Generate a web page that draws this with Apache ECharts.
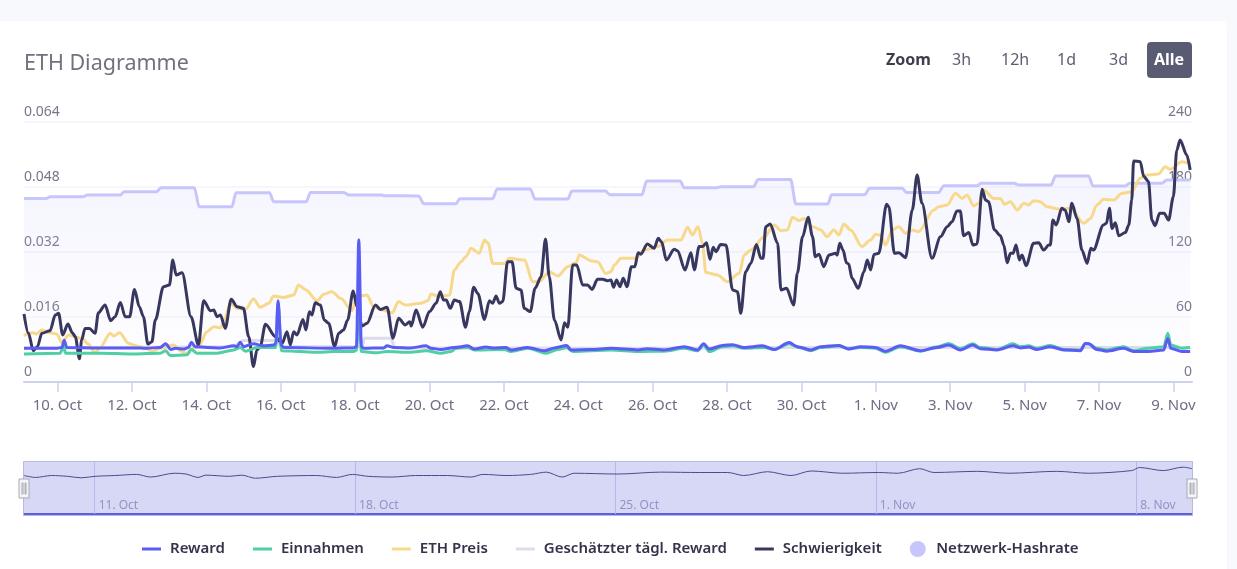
<!doctype html>
<html>
<head>
<meta charset="UTF-8">
<title>ETH Diagramme</title>
<script src="https://cdn.jsdelivr.net/npm/echarts@6/dist/echarts.min.js"></script>
<style>
  html, body { margin: 0; padding: 0; background: #f8f9fd; overflow: hidden; }
  #card { position: absolute; left: 0; top: 21px; width: 1227px; height: 548px; background: #fff; border-radius: 0 5px 0 0; }
  #main { position: absolute; left: 0; top: 0; width: 1237px; height: 569px; }
</style>
</head>
<body>
<div id="card"></div>
<div id="main"></div>
<script>
// all series are [day, value], day is counted from 1 Oct (so 32 = 1 Nov, 40 = 9 Nov)
var tickDays = [10, 12, 14, 16, 18, 20, 22, 24, 26, 28, 30, 32, 34, 36, 38, 40];
var tickLabels = ['10. Oct', '12. Oct', '14. Oct', '16. Oct', '18. Oct', '20. Oct', '22. Oct', '24. Oct', '26. Oct', '28. Oct', '30. Oct', '1. Nov', '3. Nov', '5. Nov', '7. Nov', '9. Nov'];
var navTickDays = [11, 18, 25, 32, 39];
var navTickLabels = ['11. Oct', '18. Oct', '25. Oct', '1. Nov', '8. Nov'];

var reward = [[9.10,.0083],[9.98,.0083],[10.12,.0085],[10.18,.0103],[10.25,.0085],[11.15,.0084],[12.04,.0084],[12.40,.0083],[12.76,.0085],[12.91,.0094],[13.05,.0080],[13.17,.0083],[13.39,.0081],[13.52,.0085],[13.60,.0098],[13.70,.0087],[14.02,.0085],[14.38,.0084],[14.74,.0089],[14.83,.0087],[14.91,.0098],[15.00,.0087],[15.27,.0094],[15.54,.0089],[15.81,.0091],[15.87,.0095],[15.93,.0200],[16.01,.0091],[16.08,.0085],[17.43,.0083],[17.96,.0084],[18.04,.0087],[18.10,.0350],[18.17,.0087],[18.23,.0083],[18.77,.0084],[18.86,.0089],[19.04,.0085],[19.49,.0084],
  [19.91,.0089],[20.04,.0083],[20.31,.0080],[20.67,.0085],[21.03,.0089],[21.21,.0081],[21.52,.0086],[21.70,.0084],[22.06,.0085],[22.19,.0079],[22.64,.0085],[23.09,.0077],[23.36,.0084],[23.69,.0090],[23.80,.0079],[24.34,.0080],[24.88,.0083],[25.60,.0079],[25.86,.0082],[26.31,.0079],[26.85,.0087],[27.21,.0079],[27.37,.0094],[27.52,.0081],[27.88,.0090],[28.15,.0092],[28.46,.0085],[28.95,.0089],[29.27,.0080],[29.67,.0097],[29.89,.0087],[30.25,.0079],[30.52,.0087],
  [31.01,.0090],[31.27,.0081],[31.59,.0087],[31.99,.0085],[32.26,.0076],[32.66,.0089],[33.20,.0077],[33.65,.0085],[33.96,.0091],[34.27,.0079],[34.61,.0091],[34.81,.0082],[35.26,.0079],[35.69,.0089],[35.89,.0084],[36.11,.0086],[36.33,.0080],[36.69,.0087],[37.05,.0079],[37.50,.0077],[37.63,.0095],[37.72,.0094],[37.94,.0080],[38.21,.0076],[38.66,.0083],[38.93,.0075],[39.33,.0075],[39.74,.0079],[39.85,.0107],[39.93,.0083],[40.23,.0075],[40.45,.0075]];

var einnahmen = [[9.10,.0069],[10.07,.0071],[10.16,.0087],[10.22,.0071],[11.15,.0071],[12.04,.0069],[12.76,.0071],[12.91,.0077],[13.03,.0065],[13.48,.0067],[13.60,.0080],[13.75,.0071],[14.29,.0071],[14.74,.0079],[14.91,.0085],[15.05,.0076],[15.36,.0085],[15.87,.0085],[15.93,.0193],[16.02,.0077],[16.53,.0075],[16.98,.0073],[17.43,.0075],[17.96,.0075],[18.04,.0079],[18.10,.0226],[18.17,.0075],[18.59,.0072],[18.86,.0075],[19.49,.0073],
  [19.91,.0077],[20.31,.0071],[20.58,.0075],[20.72,.0083],[21.03,.0085],[21.21,.0079],[22.01,.0080],[22.19,.0075],[22.64,.0083],[23.13,.0071],[23.45,.0080],[23.69,.0085],[23.85,.0075],[24.88,.0079],[25.60,.0075],[26.31,.0076],[26.85,.0083],[27.21,.0077],[27.37,.0091],[27.52,.0075],[27.88,.0087],[28.15,.0089],[28.46,.0083],[29.00,.0085],[29.27,.0080],[29.67,.0094],[29.94,.0085],[30.25,.0077],[30.52,.0085],
  [31.01,.0089],[31.27,.0082],[31.59,.0085],[31.99,.0083],[32.26,.0073],[32.66,.0087],[33.20,.0076],[33.65,.0087],[33.96,.0095],[34.27,.0082],[34.61,.0094],[34.81,.0085],[35.26,.0080],[35.69,.0094],[35.89,.0087],[36.11,.0089],[36.33,.0083],[36.69,.0090],[37.05,.0080],[37.50,.0079],[37.63,.0094],[37.72,.0094],[37.94,.0083],[38.21,.0079],[38.66,.0087],[38.93,.0077],[39.33,.0083],[39.74,.0087],[39.85,.0120],[39.93,.0091],[40.23,.0083],[40.45,.0085]];

var ethPreis = [[9.10,42.5],[9.22,44.9],[9.35,45.5],[9.44,44.3],[9.58,48],[9.80,45.5],[9.98,44.3],[10.12,36.3],[10.30,43.4],[10.52,41.2],[10.65,40.3],[10.83,35],[11.01,27],[11.15,32],[11.42,44.9],[11.51,42.5],[11.67,45.5],[11.91,35.7],[12.04,34.2],[12.22,32.6],[12.40,31],[12.54,28],[12.76,31],[13.12,34.2],[13.35,28],[13.48,26.5],[13.61,31],[13.79,32.6],[14.02,46.5],[14.20,51],[14.38,50],[14.47,55.7],[14.65,72.6],[14.83,68],[15.05,67],[15.27,76.6],[15.45,69],[15.68,72.6],[15.81,79.4],[16.08,78],[16.35,80.3],[16.48,89.5],[16.66,85.5],[16.98,75],[17.16,81],[17.38,83.4],[17.61,77.2],[17.92,65.8],[18.05,78.8],[18.32,80.3],[18.50,69.5],[18.68,67],[19.00,64],[19.17,74.2],[19.35,71],[19.76,72.6],
  [19.96,75],[20.04,81.2],[20.27,78.8],[20.54,80.3],[20.67,103.4],[20.85,111],[20.98,115.7],[21.12,123.4],[21.34,118.8],[21.48,131],[21.58,128],[21.70,109.5],[22.01,109.5],[22.15,114.2],[22.55,112.6],[22.78,92.6],[22.95,92.6],[23.22,101.8],[23.45,97.8],[23.72,106.5],[23.94,110],[24.03,117.2],[24.34,112],[24.52,111],[24.74,100.3],[24.88,101.8],[24.97,108],[25.15,114.2],[25.55,114.2],[25.77,121.8],[26.13,125],[26.40,131],[26.76,131],[26.94,142.8],[27.07,135.7],[27.22,143.4],[27.34,128],[27.43,101],[27.74,98.8],[28.01,92.6],[28.33,100.3],[28.46,117.2],[28.64,121.8],[29.00,134],[29.27,145],[29.45,139.7],[29.62,140.3],[29.76,152],[29.94,149],[30.07,151],[30.30,143.4],[30.52,140.3],
  [30.69,134],[30.87,140.3],[31.01,135.7],[31.14,145.8],[31.32,140.3],[31.63,125],[31.86,131],[31.99,136.3],[32.13,135.7],[32.26,126.5],[32.44,140.3],[32.62,143.4],[32.80,137.2],[32.98,140.3],[33.15,138.8],[33.56,158.8],[33.69,161.8],[33.92,163.4],[34.14,174.2],[34.32,169.5],[34.45,172.6],[34.63,162.5],[34.77,165],[34.90,177.2],[35.17,169.5],[35.35,169.5],[35.46,164],[35.62,166.5],[35.80,158.8],[35.98,165],[36.11,163.4],[36.24,167.4],[36.42,166.5],[36.60,161.8],[36.96,159.4],[37.23,160.3],[37.59,146.5],[37.77,151],[37.94,163.4],[38.12,168.6],[38.39,168],[38.62,174.2],[38.88,175.7],[39.11,188],[39.29,191],[39.60,192],[39.78,198.8],[39.91,196.3],[40.23,203.4],[40.45,201.8]];

var geschaetzt = [[9.10,.0083],[14.74,.0087],[15.00,.0102],[15.88,.0102],[16.01,.0087],[18.20,.0087],[18.25,.0108],[18.95,.0108],[19.08,.0085],[19.49,.0084],[25,.0083],[30,.0085],[35,.0085],[40.45,.0085]];

var schwierigkeit = [[9.10,62.8],[9.22,44.9],[9.35,28.9],[9.46,32.6],[9.58,44.9],[9.80,47.4],[9.94,61.8],[10.03,63.4],[10.14,43.4],[10.28,53.5],[10.40,45.5],[10.48,41.8],[10.59,21.5],[10.65,38.8],[10.74,49.5],[10.86,49.5],[11.01,44.9],[11.10,64],[11.28,71],[11.43,56.6],[11.55,60.3],[11.69,73.5],[11.82,60.3],[11.94,60.3],[12.07,85.5],[12.20,69.5],[12.31,60.3],[12.43,35],[12.54,37.2],[12.63,57.2],[12.85,88],[13.01,89.5],[13.10,112.6],[13.19,98.8],[13.35,100.9],[13.59,60.3],[13.79,34.2],[13.93,75],[14.11,65.8],[14.20,66.5],[14.29,60.3],[14.38,61.8],[14.51,49.5],[14.67,76.3],[14.83,69.5],[15.00,68],[15.14,41.8],[15.27,14.2],[15.36,29.5],[15.45,32.6],[15.59,53.2],[15.86,41.8],[16.04,35.7],[16.17,46.5],[16.26,34.2],[16.35,46.5],[16.44,43.4],[16.60,57.8],[16.68,48],[16.77,64.9],[16.84,61.8],[16.93,73.2],[17.07,71],[17.17,57.2],[17.29,54.2],[17.45,32.6],[17.56,44.9],[17.69,48],[17.80,57.2],[17.95,84],[18.05,69.5],[18.19,51.7],[18.32,54.2],[18.55,71],[18.68,67],[18.86,69],[19.02,40.3],[19.17,58.8],[19.35,52.6],[19.47,55.7],[19.51,51.7],[19.64,66.5],[19.82,50.5],
  [20.00,65],[20.18,72.6],[20.29,83.4],[20.38,75.7],[20.45,75.7],[20.56,68],[20.67,75.7],[20.81,74.2],[20.97,50.5],[21.07,65],[21.19,87.4],[21.30,81.8],[21.48,57.8],[21.61,75],[21.70,72.6],[21.79,79.4],[21.88,72.6],[21.97,74.2],[22.10,111],[22.22,111],[22.33,86.5],[22.46,85],[22.55,68],[22.71,65],[22.84,86.5],[23.00,97.2],[23.12,132],[23.22,97.2],[23.36,57.2],[23.54,38.8],[23.63,54.8],[23.72,50.5],[23.85,108],[23.96,108],[24.12,89.5],[24.25,89.5],[24.37,85.5],[24.52,94.8],[24.66,94.8],[24.79,93.5],[24.88,94.2],[24.95,87.4],[25.03,94.2],[25.12,88],[25.21,95.7],[25.31,88],[25.43,106.5],[25.52,106.5],[25.61,119.4],[25.68,118],[25.86,127.4],[26.04,123.4],[26.15,132.6],[26.24,129.5],[26.37,112.6],[26.58,122.5],[26.67,121.2],[26.87,103.4],[27.03,119.4],[27.12,103.4],[27.25,125],[27.34,125],[27.45,128.6],[27.54,113.2],[27.63,124.3],[27.70,120.3],[27.83,127],[27.97,126.5],[28.15,85],[28.28,83.4],[28.37,63.4],[28.50,101.8],[28.64,109.5],[28.79,127],[28.91,114.2],[28.97,114.2],[29.04,143.4],[29.16,145.8],[29.36,128],[29.45,85],[29.60,86.5],[29.79,71],[29.89,100.3],[30.03,134],[30.18,152],[30.30,134],[30.37,115.7],[30.47,118],[30.60,106.5],
  [30.74,117.2],[30.92,118.8],[30.96,117.2],[31.03,128],[31.12,121.8],[31.21,110],[31.27,109],[31.36,95.7],[31.53,86.5],[31.68,101.8],[31.77,112.6],[31.86,103.4],[31.95,117.8],[32.08,118.8],[32.29,164],[32.35,161.8],[32.50,118.8],[32.62,119.4],[32.80,114.8],[32.98,158.8],[33.11,191],[33.24,165],[33.51,114.2],[33.74,134],[33.92,143.4],[34.05,148],[34.18,157.9],[34.27,157.9],[34.36,135],[34.50,138],[34.61,126.5],[34.72,127.4],[34.86,177.9],[34.95,168],[35.03,166.5],[35.19,140.3],[35.35,135],[35.44,126.5],[35.53,110],[35.62,118.8],[35.69,118.8],[35.77,126.5],[35.86,112.6],[35.93,117.2],[36.04,107.4],[36.24,128],[36.38,128.6],[36.51,121.8],[36.65,126.5],[36.69,126.5],[36.76,149.5],[36.85,145],[37.00,160.3],[37.09,158.8],[37.19,148],[37.27,165],[37.41,151],[37.54,121.8],[37.68,109.5],[37.78,123.4],[37.85,121.8],[38.12,145],[38.20,146.5],[38.28,160.3],[38.35,141.8],[38.44,147],[38.53,135],[38.71,138],[38.80,145],[38.88,168],[38.93,204],[39.11,203.4],[39.20,190],[39.33,185],[39.42,149.5],[39.51,144.3],[39.63,155.7],[39.75,155.7],[39.87,149.5],[40.00,171],[40.09,214],[40.18,223.4],[40.36,209.5],[40.45,195.7]];

var hashrate = [[9.10,169.5],[9.71,169.5],[9.80,171],[10.70,171],[10.79,172.6],[11.69,172.6],[11.79,175.7],[12.67,175.7],[12.78,179.4],[13.68,179.4],[13.81,161.8],[14.69,161.8],[14.80,174.8],[15.70,174.8],[15.81,166.5],[16.69,166.5],[16.80,175],[17.70,175],[17.83,172.6],[18.73,172.6],[18.77,172],[19.71,171.7],[19.85,164.6],[20.72,164.6],[20.81,169.2],[21.70,169.2],[21.82,178.2],[22.71,178.2],[22.84,169],[23.72,169],[23.83,176.3],[24.73,176.3],[24.85,172.9],[25.71,172.9],[25.84,185.5],[26.74,185.5],[26.85,179.4],[27.73,179.4],[27.83,180.3],[28.71,180.3],[28.84,187],[29.71,187],[29.85,164.3],[30.71,164.3],[30.81,172.9],[31.70,172.9],[31.83,178.8],[32.71,178.8],[32.82,175],[33.69,175],[33.83,181.2],[34.72,181.2],[34.83,183.4],[35.72,183.4],[35.84,181.8],[36.71,181.8],[36.83,190.2],[37.72,190.2],[37.84,180.9],[38.71,180.9],[38.82,183.4],[39.69,183.4],[39.82,186.5],[40.45,186.5]];

var overviewLine = [[9.10,72.6],[9.41,69],[9.84,72.6],[10.27,71.1],[10.64,68.3],[11.01,71.1],[11.54,72.6],[12.13,74.7],[12.50,69.7],[13.14,76.9],[13.46,75.4],[13.78,69],[13.99,73.3],[14.63,71.1],[14.95,73.3],[15.32,67.5],[15.91,71.1],[16.97,72.6],[17.50,69],[17.93,74.7],[18.35,71.1],[18.99,69.7],[19.63,72.6],[20.48,72.6],[21.12,69.7],[21.44,74.7],[22.08,72.6],[22.72,74.7],[23.14,79],[23.57,69.7],[23.89,76.9],[25.06,75.4],[26.21,79],[27.28,78.3],[28.02,78.3],[28.45,72.6],[29.09,79.8],[29.72,72.6],[30.26,81.2],[31.11,76.9],[32.07,78.3],[32.60,76.9],[33.18,85.5],[33.56,78.3],[34.73,80.5],[35.58,76.9],[36.86,80.5],[37.71,76.9],[38.88,81.9],[39.09,87.7],[39.73,81.9],[40.26,88.4],[40.50,85.5]];

var font = '"Noto Sans", sans-serif';
var startDay = 9.10, endDay = 40.50;

function lineSeries(name, data, color, yAxisIndex, z, extra) {
  var s = {
    name: name, type: 'line', data: data, yAxisIndex: yAxisIndex, z: z,
    showSymbol: false, smooth: 0.3, smoothMonotone: 'x',
    lineStyle: { color: color, width: 3 }, itemStyle: { color: color }
  };
  for (var k in extra) s[k] = extra[k];
  return s;
}
var lineIcon = 'path://M0 0h19v3H0z';

var myChart = echarts.init(document.getElementById('main'), null, { renderer: 'canvas' });
var option = {
  animation: false,
  backgroundColor: 'transparent',
  textStyle: { fontFamily: font },
  grid: [
    { left: 24, right: 45, top: 122, height: 260 },
    { left: 24, right: 45, top: 461, height: 53 }
  ],
  xAxis: [
    {
      type: 'value', gridIndex: 0, min: startDay, max: endDay,
      axisLine: { lineStyle: { color: '#ccd2ee', width: 2 } },
      axisTick: { show: true, length: 10, lineStyle: { color: '#ccd2ee', width: 1.5 }, customValues: tickDays },
      axisLabel: {
        color: '#6d6d83', fontSize: 15, margin: 16, hideOverlap: false,
        customValues: tickDays,
        formatter: function (v) { return tickLabels[tickDays.indexOf(v)]; }
      },
      splitLine: { show: false }
    },
    {
      type: 'value', gridIndex: 1, min: startDay, max: endDay,
      axisLine: { lineStyle: { color: '#5f62e6', width: 2 } },
      axisTick: { show: true, inside: true, length: 53, lineStyle: { color: '#d6d7ef', width: 1 }, customValues: navTickDays },
      axisLabel: {
        inside: true, color: '#a4a5bf', fontSize: 12, margin: 2, align: 'left', padding: [0, 0, 0, 4],
        customValues: navTickDays,
        formatter: function (v) { return navTickLabels[navTickDays.indexOf(v)]; }
      },
      splitLine: { show: false }
    }
  ],
  yAxis: [
    {
      type: 'value', gridIndex: 0, min: 0, max: 0.064, interval: 0.016, position: 'left',
      axisLine: { show: false }, axisTick: { show: false },
      axisLabel: { inside: true, margin: 0, color: '#77778b', fontSize: 14, align: 'left', verticalAlign: 'bottom', padding: [0, 0, 3, 0] },
      splitLine: { lineStyle: { color: '#f6f6fc', width: 2 } }
    },
    {
      type: 'value', gridIndex: 0, min: 0, max: 240, interval: 60, position: 'right',
      axisLine: { show: false }, axisTick: { show: false },
      axisLabel: { inside: true, margin: 0, color: '#77778b', fontSize: 14, align: 'right', verticalAlign: 'bottom', padding: [0, 0, 3, 0] },
      splitLine: { show: false }
    },
    { type: 'value', gridIndex: 1, min: 0, max: 100, show: false }
  ],
  dataZoom: [{
    type: 'slider', xAxisIndex: [0], filterMode: 'none', start: 0, end: 100,
    left: 22, right: 45, top: 461, height: 55,
    backgroundColor: 'transparent', borderColor: '#b9bad9', fillerColor: 'rgba(88,92,214,0.24)',
    showDataShadow: false, showDetail: false, brushSelect: false, moveHandleSize: 0,
    handleIcon: 'path://M0 0h10v19H0z M3 4v11h1V4z M6 4v11h1V4z', handleSize: 19,
    handleStyle: { color: '#f4f4f6', borderColor: '#a9a9b4', borderWidth: 1 }
  }],
  legend: {
    left: 142, top: 541, padding: 0, itemWidth: 19, itemHeight: 16, itemGap: 28,
    textStyle: { fontFamily: font, fontSize: 15, fontWeight: 600, color: '#33334a', padding: [0, 0, 0, 4] },
    data: [
      { name: 'Reward', icon: lineIcon },
      { name: 'Einnahmen', icon: lineIcon },
      { name: 'ETH Preis', icon: lineIcon },
      { name: 'Geschätzter tägl. Reward', icon: lineIcon },
      { name: 'Schwierigkeit', icon: lineIcon },
      { name: 'Netzwerk-Hashrate', icon: 'circle' }
    ]
  },
  graphic: [
    { type: 'text', left: 24, top: 53, style: { text: 'ETH Diagramme', fill: '#71717f', font: '21.5px ' + font } },
    { type: 'text', left: 886, top: 52, style: { text: 'Zoom', fill: '#3d3d4e', font: 'bold 16px ' + font } },
    { type: 'text', left: 952, top: 52, style: { text: '3h', fill: '#5d5d72', font: '16px ' + font } },
    { type: 'text', left: 1001, top: 52, style: { text: '12h', fill: '#5d5d72', font: '16px ' + font } },
    { type: 'text', left: 1057, top: 52, style: { text: '1d', fill: '#5d5d72', font: '16px ' + font } },
    { type: 'text', left: 1109, top: 52, style: { text: '3d', fill: '#5d5d72', font: '16px ' + font } },
    { type: 'rect', left: 1147, top: 42, shape: { width: 45, height: 36, r: 4 }, style: { fill: '#595b73' } },
    { type: 'text', left: 1154, top: 52, z: 10, style: { text: 'Alle', fill: '#ffffff', font: 'bold 16px ' + font } }
  ],
  series: [
    lineSeries('Reward', reward, '#5b5bf6', 0, 9),
    lineSeries('Einnahmen', einnahmen, '#4fcfa3', 0, 8),
    lineSeries('ETH Preis', ethPreis, '#f8d98c', 1, 5),
    lineSeries('Geschätzter tägl. Reward', geschaetzt, '#dcdcee', 0, 4),
    lineSeries('Schwierigkeit', schwierigkeit, '#37375f', 1, 7),
    lineSeries('Netzwerk-Hashrate', hashrate, '#c6c6fc', 1, 3, {
      areaStyle: {
        color: new echarts.graphic.LinearGradient(0, 0, 0, 1, [
          { offset: 0, color: 'rgba(198,198,252,0.25)' },
          { offset: 1, color: 'rgba(198,198,252,0)' }
        ])
      }
    }),
    {
      name: 'overview', type: 'line', xAxisIndex: 1, yAxisIndex: 2, data: overviewLine,
      showSymbol: false, smooth: 0.3, lineStyle: { color: '#45457a', width: 1 }, silent: true
    }
  ]
};
myChart.setOption(option);
</script>
</body>
</html>
